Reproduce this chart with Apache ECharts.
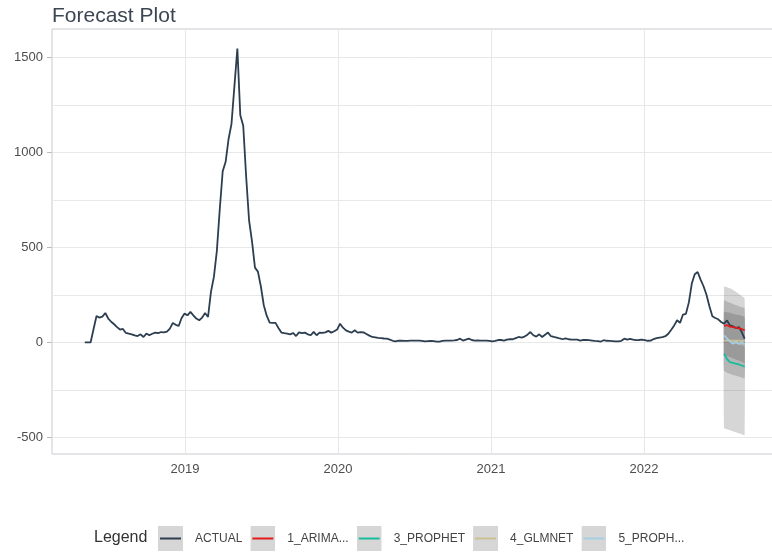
<!DOCTYPE html>
<html><head><meta charset="utf-8">
<script src="https://cdn.jsdelivr.net/npm/echarts@6/dist/echarts.min.js"></script>
<style>html,body{margin:0;padding:0;background:#fff}#c{width:772px;height:552px}</style>
</head><body><div id="c"></div>
<script>
// ---- data ----
const startDate = '2018-05-07';          // first weekly observation
const actualValues = [
  0, 0, 0, 70, 138, 130, 135, 154, 125, 108,
  95, 80, 67, 70, 49, 45, 42, 36, 33, 42,
  28, 46, 37, 45, 51, 48, 54, 52, 56, 72,
  102, 92, 86, 128, 151, 142, 160, 142, 125, 116,
  130, 154, 133, 265, 344, 480, 700, 900, 950, 1070,
  1150, 1350, 1546, 1195, 1140, 870, 640, 530, 393, 372,
  295, 195, 140, 104, 102, 102, 75, 51, 48, 46,
  42, 49, 33, 52, 48, 51, 42, 37, 55, 37,
  51, 49, 52, 60, 51, 58, 67, 98, 77, 63,
  56, 51, 63, 51, 54, 52, 44, 35, 28, 26,
  23, 22, 20, 19, 14, 8, 5, 9, 8, 7,
  7, 9, 9, 9, 9, 7, 5, 6, 7, 6,
  4, 4, 7, 9, 9, 9, 10, 12, 19, 9,
  14, 19, 12, 9, 10, 9, 9, 9, 7, 5,
  8, 12, 12, 9, 14, 16, 16, 22, 28, 25,
  30, 40, 54, 37, 30, 42, 28, 40, 51, 32,
  28, 25, 20, 16, 21, 16, 14, 14, 14, 9,
  13, 12, 11, 9, 7, 6, 4, 11, 8, 7,
  6, 5, 5, 8, 19, 14, 18, 14, 11, 12,
  14, 11, 8, 9, 17, 22, 25, 27, 32, 45,
  66, 89, 116, 102, 146, 150, 210, 309, 358, 370,
  330, 295, 250, 190, 137, 128, 121, 107, 98, 115,
  89, 85, 75, 80, 55, 19
];
const forecastStartWeek = 218;           // week index where the forecast begins
const arimaValues    = [86, 90, 82, 80, 77, 73, 70, 63];
const prophetValues  = [-60, -88, -104, -108, -112, -116, -122, -128];
const glmnetValues   = [10, 9, 9, 8, 9, 8, 7, 7];
const prophet5Values = [37, 20, 5, -8, 3, -8, 0, -12];

const glmnetUpper   = [293, 290, 285, 276, 266, 255, 243, 231];
const glmnetLower   = [-453, -458, -463, -468, -474, -479, -484, -489];
const prophet5Upper = [221, 215, 208, 202, 196, 190, 185, 180];
const prophet5Lower = [-67, -72, -78, -84, -90, -96, -103, -110];
const arimaUpper    = [160, 158, 155, 150, 146, 143, 139, 135];
const arimaLower    = [12, 10, 6, 2, -2, -6, -10, -15];
const prophetUpper  = [20, 12, 5, -2, -8, -12, -16, -20];
const prophetLower  = [-150, -160, -166, -172, -176, -180, -185, -190];

const legendNames = ['ACTUAL', '1_ARIMA...', '3_PROPHET', '4_GLMNET', '5_PROPH...'];
const seriesColors = ['#2c3e50', '#e31a1c', '#18bc9c', '#ccbe93', '#a6cee3'];
const yTickValues = [-500, 0, 500, 1000, 1500];
const xTickValues = [2019, 2020, 2021, 2022];

// ---- helpers ----
const DAY = 86400000;
const t0 = Date.parse(startDate + 'T00:00:00Z');
function weekToYear(i) {
  const ms = t0 + i * 7 * DAY;
  const y = new Date(ms).getUTCFullYear();
  const a = Date.UTC(y, 0, 1), b = Date.UTC(y + 1, 0, 1);
  return y + (ms - a) / (b - a);
}
const actualData = actualValues.map((v, i) => [weekToYear(i), v]);
const fc = arr => arr.map((v, k) => [weekToYear(forecastStartWeek + k), v]);
function bandData(lo, hi) { return lo.map((v, k) => [weekToYear(forecastStartWeek + k), v, hi[k]]); }

function bandSeries(name, lo, hi) {
  const data = bandData(lo, hi);
  return {
    type: 'custom', name: name, z: 1, silent: true,
    data: data, encode: { x: 0, y: [1, 2] },
    renderItem: function (params, api) {
      if (params.dataIndex !== 0) return;
      const top = data.map(d => api.coord([d[0], d[2]]));
      const bot = data.map(d => api.coord([d[0], d[1]])).reverse();
      return { type: 'polygon', shape: { points: top.concat(bot), smooth: 0.2 },
               style: { fill: 'rgba(51,51,51,0.2)' } };
    }
  };
}
function icon(color) {
  const svg = "<svg xmlns='http://www.w3.org/2000/svg' width='25' height='25'>" +
    "<rect width='25' height='25' fill='#d6d6d6'/>" +
    "<line x1='2' y1='12.5' x2='23' y2='12.5' stroke='" + color + "' stroke-width='2'/></svg>";
  return 'image://data:image/svg+xml;charset=utf-8,' + encodeURIComponent(svg);
}
function lineSeries(name, data, color, z) {
  return { type: 'line', name: name, data: data, showSymbol: false, symbol: 'none', z: z,
           lineStyle: { color: color, width: 1.8 }, itemStyle: { color: color } };
}

const FONT = '"Liberation Sans", Arial, sans-serif';
const GRID_C = '#e8e8e8';
const chart = echarts.init(document.getElementById('c'), null, { renderer: 'canvas' });
chart.setOption({
  animation: false,
  backgroundColor: '#fff',
  textStyle: { fontFamily: FONT },
  title: [
    { text: 'Forecast Plot', left: 52, top: 6, padding: 0,
      textStyle: { fontSize: 21, fontWeight: 'normal', color: '#3b4652', fontFamily: FONT } },
    { text: 'Legend', left: 94, top: 530, padding: 0,
      textStyle: { fontSize: 16, fontWeight: 'normal', color: '#333', fontFamily: FONT } }
  ],
  legend: {
    left: 158, top: 526, padding: 0, itemGap: 8, itemWidth: 25, itemHeight: 25,
    data: legendNames.map((n, i) => ({ name: n, icon: icon(seriesColors[i]) })),
    textStyle: { fontSize: 12, color: '#444', fontFamily: FONT, padding: [0, 0, 0, 7] },
    selectedMode: false
  },
  grid: { left: 52, right: -1, top: 29, bottom: 98, show: true, borderColor: '#c6cacf',
          borderWidth: 1, outerBoundsMode: 'none', containLabel: false },
  xAxis: {
    type: 'value', min: 2018.131, max: 2022.843, minInterval: 1, maxInterval: 1,
    axisLine: { show: false },
    axisTick: { show: true, length: 3, lineStyle: { color: '#ddd' }, customValues: xTickValues },
    axisLabel: { show: true, margin: 9, fontSize: 13, color: '#4d4d4d', fontFamily: FONT,
                 customValues: xTickValues, formatter: v => String(Math.round(v)) },
    splitLine: { show: true, lineStyle: { color: GRID_C, width: 1 } }
  },
  yAxis: {
    type: 'value', min: -588, max: 1649, minInterval: 500, maxInterval: 500,
    axisLine: { show: false },
    axisTick: { show: true, length: 5, lineStyle: { color: '#bbb' }, customValues: yTickValues },
    axisLabel: { show: true, margin: 9, fontSize: 13, color: '#4d4d4d', fontFamily: FONT,
                 customValues: yTickValues, formatter: v => String(Math.round(v)) },
    splitLine: { show: true, lineStyle: { color: GRID_C, width: 1 } },
    minorTick: { show: false, splitNumber: 2 },
    minorSplitLine: { show: true, lineStyle: { color: GRID_C, width: 1 } }
  },
  series: [
    bandSeries('band_glmnet', glmnetLower, glmnetUpper),
    bandSeries('band_prophet5', prophet5Lower, prophet5Upper),
    bandSeries('band_arima', arimaLower, arimaUpper),
    bandSeries('band_prophet', prophetLower, prophetUpper),
    lineSeries(legendNames[0], actualData, seriesColors[0], 3),
    lineSeries(legendNames[1], fc(arimaValues), seriesColors[1], 4),
    lineSeries(legendNames[2], fc(prophetValues), seriesColors[2], 4),
    lineSeries(legendNames[3], fc(glmnetValues), seriesColors[3], 4),
    lineSeries(legendNames[4], fc(prophet5Values), seriesColors[4], 5)
  ]
});
</script></body></html>
